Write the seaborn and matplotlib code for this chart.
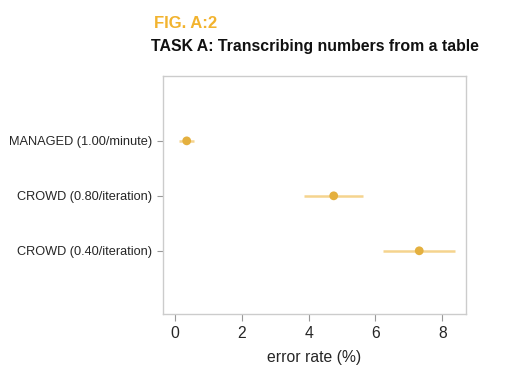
import matplotlib
matplotlib.use("Agg")
import matplotlib.pyplot as plt
import seaborn as sns
import pandas as pd

conditions = ["MANAGED (1.00/minute)", "CROWD (0.80/iteration)", "CROWD (0.40/iteration)"]
error_rate = [0.35, 4.75, 7.31]
ci_low = [0.12, 3.87, 6.24]
ci_high = [0.57, 5.62, 8.38]
x_ticks = [0, 2, 4, 6, 8]

df = pd.DataFrame({"condition": conditions, "rate": error_rate, "lo": ci_low, "hi": ci_high})

sns.set_style("white")
plt.rcParams["font.family"] = ["Liberation Sans", "DejaVu Sans"]

fig = plt.figure(figsize=(5.18, 3.78), dpi=100)
ax = fig.add_axes([163/518, 1-314/378, (466-163)/518, (314-76)/378])

ax.hlines(y=df["condition"], xmin=df["lo"], xmax=df["hi"], color="#F5D48E", lw=1.8, zorder=2)
sns.scatterplot(data=df, x="rate", y="condition", ax=ax, color="#E4B03F", s=40,
                edgecolor="none", zorder=3)

ax.set_xlim(-0.36, 8.71)
ax.set_ylim(3.15, -1.18)
ax.set_xticks(x_ticks)
ax.set_xticklabels([str(t) for t in x_ticks], fontsize=11.3)
ax.set_ylabel("")
ax.set_xlabel("error rate (%)", fontsize=11.3, labelpad=6)
ax.tick_params(axis="y", labelsize=9.2, length=4, color="#999999", pad=4, left=True)
ax.tick_params(axis="x", length=5, color="#999999", pad=4, bottom=True)
for s in ax.spines.values():
    s.set_color("#CCCCCC")
    s.set_linewidth(1.0)

fig.text(315/518, 1-47/378, "TASK A: Transcribing numbers from a table", ha="center", va="center",
         fontsize=11.4, fontweight="bold", color="#111111")
fig.text(154/518, 1-24/378, "FIG. A:2", ha="left", va="center", fontsize=12,
         fontweight="bold", color="#F2B32E")

fig.savefig("out.png", dpi=100, facecolor="white")
